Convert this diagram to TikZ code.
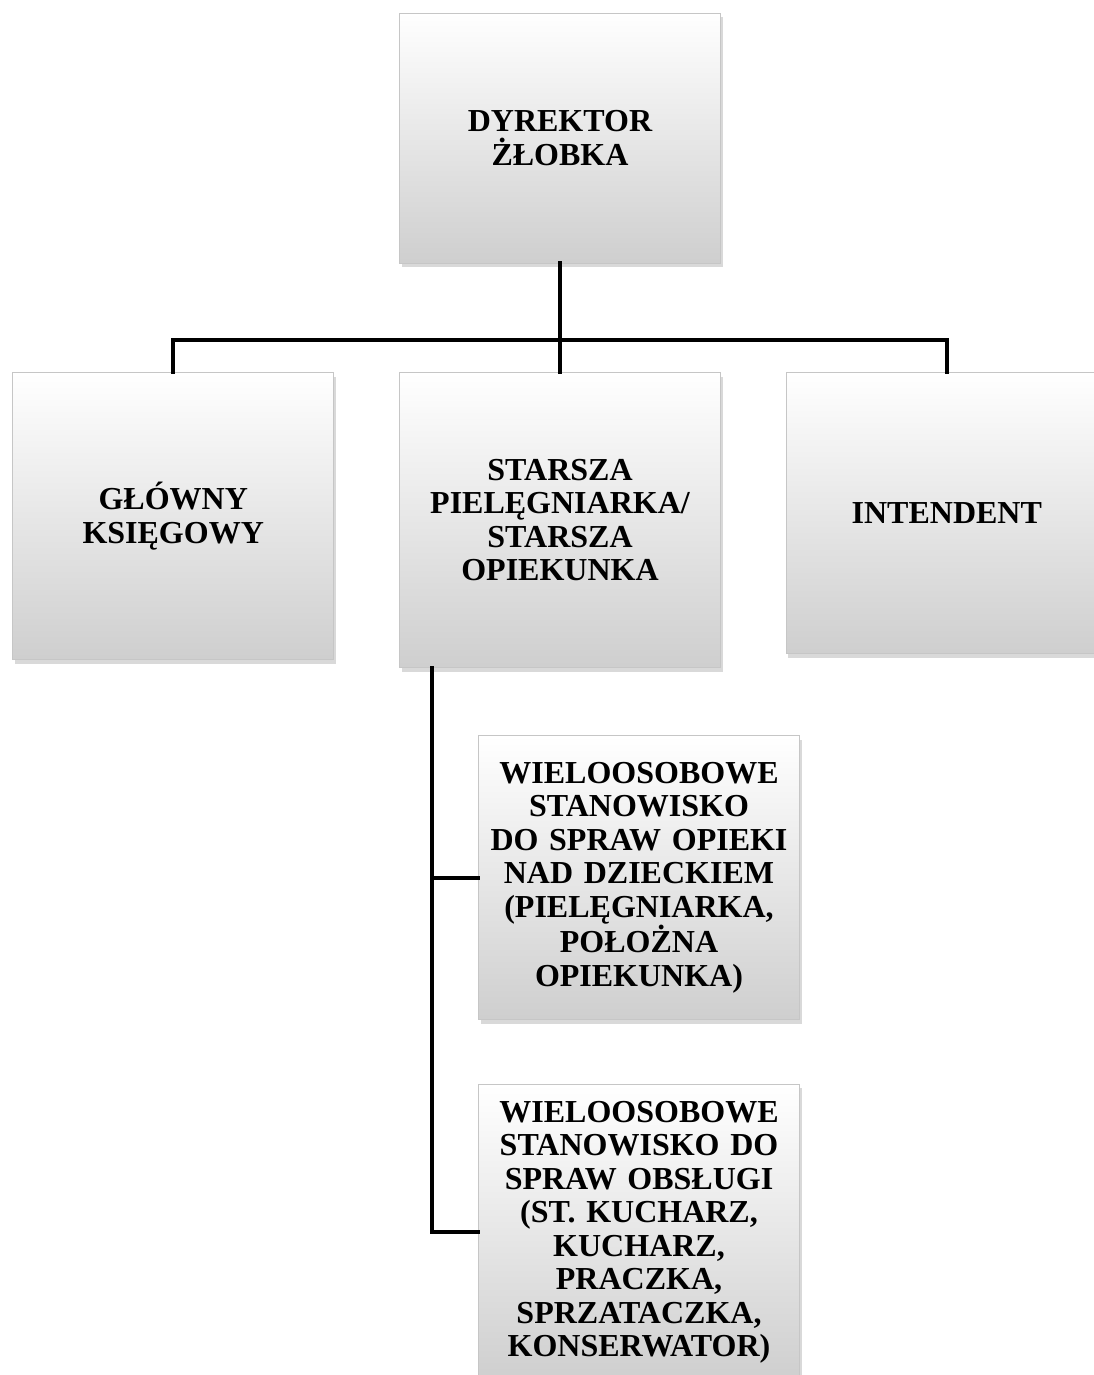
\documentclass[tikz,border=0pt]{standalone}
\usepackage{fontspec}
\setmainfont{Liberation Serif}
\usetikzlibrary{positioning,shadows}

\begin{document}
\begin{tikzpicture}[
    node distance = 65pt,
    box/.style = {
        rectangle, draw=gray!45, line width=0.8pt,
        top color=white, middle color=gray!2, bottom color=gray!38,
        drop shadow={shadow xshift=2pt, shadow yshift=-4pt, opacity=0.3},
        minimum width=321pt, inner sep=0pt, text width=310pt,
        align=center, font=\bfseries\fontsize{32}{33.5}\selectfont
    },
    conn/.style = {line width=4pt, line cap=rect}
]
\useasboundingbox (0,0) rectangle (1093pt,-1375pt);

% Top
\node[box, minimum height=250pt] (dyr) at (560pt,-138pt) {DYREKTOR\\ŻŁOBKA};

% Second row
\node[box, minimum height=295pt, below=109pt of dyr] (piel) {STARSZA\\PIELĘGNIARKA/\\STARSZA\\OPIEKUNKA};
\node[box, minimum height=287pt, left=65pt of piel.north west, anchor=north east] (ksieg) {GŁÓWNY\\KSIĘGOWY};
\node[box, minimum height=281pt, right=65pt of piel.north east, anchor=north west] (intend) {INTENDENT};

% Under the nurse
\node[box, minimum height=284pt, below right=67pt and 79pt of piel.south west] (opieka)
    {WIELOOSOBOWE\\STANOWISKO\\DO SPRAW OPIEKI\\NAD DZIECKIEM\\(PIELĘGNIARKA,\\POŁOŻNA\\OPIEKUNKA)};
\node[box, minimum height=296pt, below=64pt of opieka] (obsluga)
    {WIELOOSOBOWE\\STANOWISKO DO\\SPRAW OBSŁUGI\\(ST. KUCHARZ,\\KUCHARZ,\\PRACZKA,\\SPRZATACZKA,\\KONSERWATOR)};

% Connectors
\coordinate (bar) at ([yshift=-77pt]dyr.south);
\coordinate (trunk) at ([xshift=33pt]piel.south west);
\draw[conn] (dyr.south) -- (piel.north);
\draw[conn] (ksieg.north) |- (bar) -| (intend.north);
\draw[conn] (trunk) |- (obsluga.west);
\draw[conn] (trunk |- opieka.west) -- (opieka.west);

\end{tikzpicture}
\end{document}
